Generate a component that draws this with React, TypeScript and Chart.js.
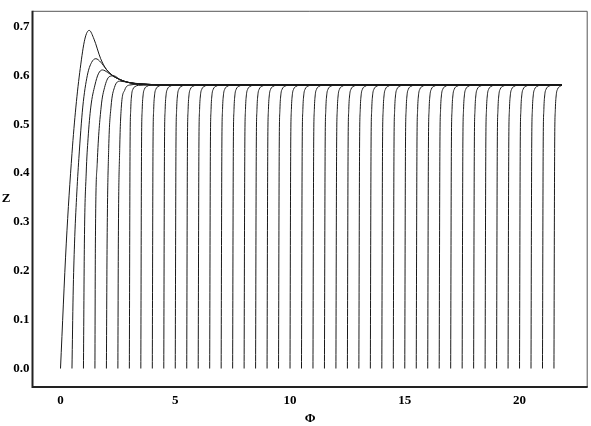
import React, { useEffect, useRef } from "react";
import { Chart, registerables } from "chart.js";

Chart.register(...registerables);

// ---- data ----
const X_TICKS = [0, 5, 10, 15, 20];
const Y_TICKS = [0, 0.1, 0.2, 0.3, 0.4, 0.5, 0.6, 0.7];

// start abscissa of every curve
const CURVE_STARTS = [
  0, 0.5, 1, 1.5, 2, 2.5, 3, 3.5, 4, 4.5, 5, 5.5, 6, 6.5, 7, 7.5, 8, 8.5, 9, 9.5, 10, 10.5,
  11, 11.5, 12, 12.5, 13, 13.5, 14, 14.5, 15, 15.5, 16, 16.5, 17, 17.5, 18, 18.5, 19, 19.5,
  20, 20.5, 21, 21.5,
];
const X_END = 21.85;
const PLATEAU = 0.57983;

// first curves (with overshoot), read point by point
const C1_X = [0, 0.25, 0.5, 0.67, 0.86, 1.06, 1.25, 1.46, 1.75, 2.0, 2.26, 2.6, 3.0, 3.8, 5.0];
const C1_Z = [0, 0.255, 0.44, 0.535, 0.614, 0.674, 0.692, 0.674, 0.634, 0.612, 0.6, 0.591, 0.585, 0.5815, 0.57983];
const C2_X = [0.5, 0.55, 0.61, 0.7, 0.8, 0.97, 1.17, 1.35, 1.54, 1.75, 2.0, 2.26, 2.6, 3.0, 3.8, 5.0];
const C2_Z = [0, 0.15, 0.255, 0.35, 0.43, 0.535, 0.6, 0.626, 0.634, 0.627, 0.612, 0.6, 0.591, 0.585, 0.5815, 0.57983];
const C3_X = [1.0, 1.04, 1.12, 1.2, 1.32, 1.5, 1.65, 1.83, 2.05, 2.3, 2.6, 3.0, 3.8, 5.0];
const C3_Z = [0, 0.255, 0.4, 0.47, 0.535, 0.58, 0.603, 0.611, 0.606, 0.598, 0.591, 0.585, 0.5815, 0.57983];
const C4_X = [1.5, 1.52, 1.6, 1.77, 1.92, 2.12, 2.32, 2.6, 3.0, 3.8, 5.0];
const C4_Z = [0, 0.255, 0.42, 0.535, 0.575, 0.597, 0.599, 0.591, 0.585, 0.5815, 0.57983];
const C5_X = [2.0, 2.03, 2.1, 2.2, 2.35, 2.6, 3.0, 3.8, 5.0];
const C5_Z = [0, 0.255, 0.45, 0.535, 0.575, 0.588, 0.585, 0.5815, 0.57983];
const C6_X = [2.5, 2.52, 2.58, 2.65, 2.8, 3.0, 3.4, 4.2, 5.2];
const C6_Z = [0, 0.255, 0.45, 0.535, 0.57, 0.58, 0.5815, 0.5805, 0.57983];

// shape of the later curves, offset from their start
const LATE_DX = [0, 0.03, 0.06, 0.1, 0.16, 0.25, 0.4, 0.6];
const LATE_Z = [0, 0.45, 0.53, 0.56, 0.572, 0.577, 0.5795, 0.57983];

const EARLY = [
  [C1_X, C1_Z],
  [C2_X, C2_Z],
  [C3_X, C3_Z],
  [C4_X, C4_Z],
  [C5_X, C5_Z],
  [C6_X, C6_Z],
];

function buildCurve(i: number) {
  const pts: { x: number; y: number }[] = [];
  if (i < EARLY.length) {
    const [xs, zs] = EARLY[i];
    xs.forEach((x, k) => pts.push({ x, y: zs[k] }));
  } else {
    const s = CURVE_STARTS[i];
    LATE_DX.forEach((dx, k) => {
      const x = s + dx;
      if (x < X_END) pts.push({ x, y: LATE_Z[k] });
    });
  }
  pts.push({ x: X_END, y: PLATEAU });
  return pts;
}

const FONT = { family: "'Liberation Serif', 'Times New Roman', serif", size: 13, weight: "bold" as const };

const framePlugin = {
  id: "frame",
  afterDraw(chart: any) {
    const { ctx, chartArea } = chart;
    const { left, right, top, bottom } = chartArea;
    ctx.save();
    ctx.strokeStyle = "#555";
    ctx.lineWidth = 1;
    ctx.beginPath();
    ctx.moveTo(left, top + 0.5);
    ctx.lineTo(right - 0.5, top + 0.5);
    ctx.lineTo(right - 0.5, bottom);
    ctx.stroke();
    ctx.strokeStyle = "#222";
    ctx.lineWidth = 2;
    ctx.beginPath();
    ctx.moveTo(left, top);
    ctx.lineTo(left, bottom);
    ctx.lineTo(right, bottom);
    ctx.stroke();
    ctx.fillStyle = "#000";
    ctx.font = "bold 13px 'Liberation Serif', 'Times New Roman', serif";
    ctx.textAlign = "center";
    ctx.textBaseline = "middle";
    ctx.fillText("Z", 6, (top + bottom) / 2);
    ctx.restore();
  },
};

export default function App() {
  const ref = useRef<HTMLCanvasElement>(null);
  useEffect(() => {
    document.body.style.margin = "0";
    const datasets = CURVE_STARTS.map((s, i) => ({
      label: "c" + s,
      data: buildCurve(i),
      borderColor: "#1a1a1a",
      borderWidth: 1,
      pointRadius: 0,
      fill: false,
      showLine: true,
      cubicInterpolationMode: "monotone" as const,
    }));
    const chart = new Chart(ref.current!, {
      type: "scatter",
      data: { datasets },
      plugins: [framePlugin],
      options: {
        animation: false,
        responsive: false,
        layout: { padding: { top: 0, right: 3.3, left: 0, bottom: 0 } },
        plugins: { legend: { display: false }, tooltip: { enabled: false } },
        scales: {
          x: {
            type: "linear",
            min: -1.22,
            max: 22.97,
            afterBuildTicks: (s: any) => {
              s.ticks = X_TICKS.map((v) => ({ value: v }));
            },
            afterFit: (s: any) => {
              s.height = 39;
            },
            grid: { display: false, drawTicks: false },
            border: { display: false },
            ticks: {
              color: "#000",
              font: FONT,
              padding: 6,
              autoSkip: false,
              maxRotation: 0,
              callback: (v: any) => String(v),
            },
            title: { display: true, text: "Φ", color: "#000", font: FONT, padding: { top: 0, bottom: 0 } },
          },
          y: {
            type: "linear",
            min: -0.0378,
            max: 0.732,
            afterBuildTicks: (s: any) => {
              s.ticks = Y_TICKS.map((v) => ({ value: v }));
            },
            afterFit: (s: any) => {
              s.width = 32.5;
            },
            grid: { display: false, drawTicks: false },
            border: { display: false },
            ticks: {
              color: "#000",
              font: FONT,
              padding: 3,
              autoSkip: false,
              callback: (v: any) => Number(v).toFixed(1),
            },
          },
        },
      },
    });
    return () => chart.destroy();
  }, []);
  return <canvas ref={ref} width={591} height={426} style={{ display: "block" }} />;
}
